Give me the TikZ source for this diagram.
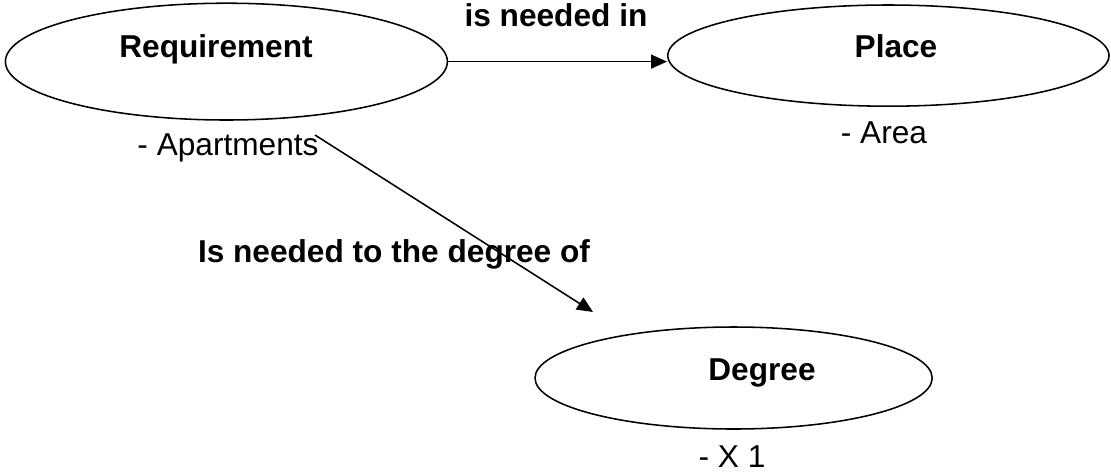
\documentclass[tikz,border=0pt]{standalone}
\usepackage{fontspec}
\setmainfont{Liberation Sans}
\usepackage{tikz}
\usetikzlibrary{
  arrows.meta,
  positioning,
  shapes.geometric
}

\begin{document}
\begin{tikzpicture}[
  oval/.style={ellipse,draw,line width=1.1pt,inner sep=0pt},
  lbl/.style={font=\fontsize{22.5}{27}\selectfont\bfseries,anchor=base,inner sep=0pt},
  note/.style={font=\fontsize{22.5}{27}\selectfont,anchor=base,inner sep=0pt},
  a/.style={-{Triangle[length=4mm,width=3.5mm]},line width=1.1pt}
]
\useasboundingbox (0,0) rectangle (27.775,-11.85);
\node[oval,minimum width=11.05cm,minimum height=2.92cm] (req) at (5.66,-1.54) {};
\node[oval,minimum width=11.03cm,minimum height=2.53cm] (place) at (22.21,-1.39) {};
\node[oval,minimum width=9.93cm,minimum height=2.55cm] (deg) at (18.34,-9.45) {};
\node[lbl] (reqtxt) at (5.4,-1.425) {Requirement};
\node[lbl] (placetxt) at (22.4,-1.425) {Place};
\node[lbl] (degtxt) at (19.05,-9.5) {Degree};
\node[note] (apt) at (5.7,-3.875) {- Apartments};
\node[note] (area) at (22.1,-3.575) {- Area};
\node[note] (xone) at (18.3,-11.675) {- X 1};
\node[lbl] (inlbl) at (13.9,-0.65) {is needed in};
\node[lbl] (ofdeg) at (9.85,-6.55) {Is needed to the degree of};
\coordinate (from) at (7.875,-3.375);
\coordinate (to) at (14.825,-7.8);
\draw[a] (req.east) -- (req.east -| place.west);
\draw[a] (from) -- (to);
\end{tikzpicture}
\end{document}
